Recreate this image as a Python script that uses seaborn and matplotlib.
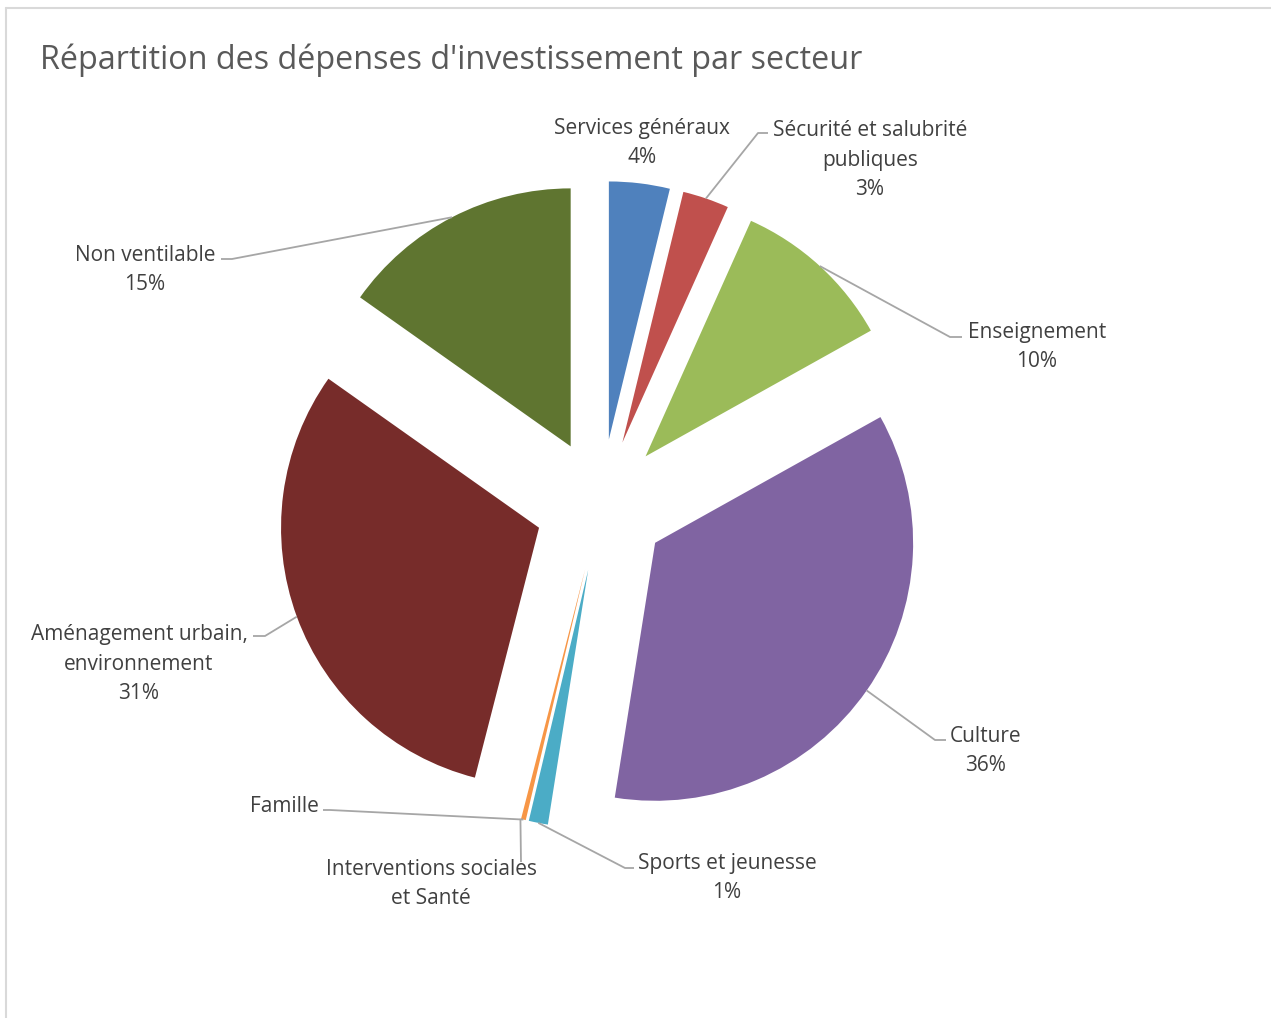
import numpy as np
import matplotlib
matplotlib.use("Agg")
import matplotlib.pyplot as plt
import seaborn as sns

# Data (clockwise from 12 o'clock)
secteurs = ["Services généraux", "Sécurité et salubrité\npubliques", "Enseignement",
            "Culture", "Sports et jeunesse", "Famille",
            "Interventions sociales\net Santé", "Aménagement urbain,\nenvironnement",
            "Non ventilable"]
parts = [3.8, 2.9, 10.2, 35.6, 1.2, 0.3, 0.0, 30.8, 15.2]
montrer_pct = [True, True, True, True, True, False, False, True, True]
couleurs = ["#4F81BD", "#C0504D", "#9BBB59", "#8064A2", "#4BACC6",
            "#F79646", "#2C4D75", "#772C2A", "#5F7530"]

W, H = 1271, 1018

def Y(py):
    return H - py

# label layout in pixel coords: text centre, elbow, end of leader (None = no leader)
pos_texte = [(642, 143), (870, 160), (1037, 347), (986, 751), (727, 878),
             (284, 806), (431, 884), (139, 664), (145, 270)]
coude = [None, (758, 133), (950, 337), (935, 740), (625, 868),
         (330, 810), (521, 862), (265, 636), (232, 259)]
bout = [None, (768, 133), (962, 337), (946, 740), (634, 868),
        (323, 810), (521, 862), (253, 636), (221, 259)]

sns.set_theme(style="white")
plt.rcParams["font.family"] = ["Open Sans", "DejaVu Sans"]

fig = plt.figure(figsize=(W / 100, H / 100), dpi=100)
ax = fig.add_axes([0, 0, 1, 1])

rayon = 258
wedges, _ = ax.pie(parts, colors=couleurs, startangle=90, counterclock=False,
                   radius=rayon, center=(601, Y(505)), explode=[66] * len(parts),
                   wedgeprops=dict(linewidth=0), normalize=True)

ax.set_xlim(0, W)
ax.set_ylim(0, H)
ax.set_aspect("equal")
ax.axis("off")

gris_ligne = "#A6A6A6"
for i, w in enumerate(wedges):
    txt = secteurs[i]
    if montrer_pct[i]:
        txt += f"\n{round(parts[i]):.0f}%"
    tx, ty = pos_texte[i]
    ax.text(tx, Y(ty), txt, ha="center", va="center", fontsize=15,
            color="#404040", linespacing=1.55, zorder=3)
    if coude[i] is not None:
        th = np.deg2rad((w.theta1 + w.theta2) / 2)
        cx, cy = w.center
        px, py = cx + w.r * np.cos(th), cy + w.r * np.sin(th)
        ex, ey = coude[i]
        bx, by = bout[i]
        ax.plot([px, ex, bx], [py, Y(ey), Y(by)], color=gris_ligne, lw=1.3,
                zorder=2, solid_capstyle="butt")

ax.text(40, Y(60), "Répartition des dépenses d'investissement par secteur",
        ha="left", va="center", fontsize=23.3, color="#595959")

# chart area border (top and left visible)
ax.plot([6, W + 5], [Y(8), Y(8)], color="#D9D9D9", lw=1.5, clip_on=False)
ax.plot([6, 6], [Y(8), -5], color="#D9D9D9", lw=1.5, clip_on=False)

fig.savefig("out.png", dpi=100, facecolor="white")
